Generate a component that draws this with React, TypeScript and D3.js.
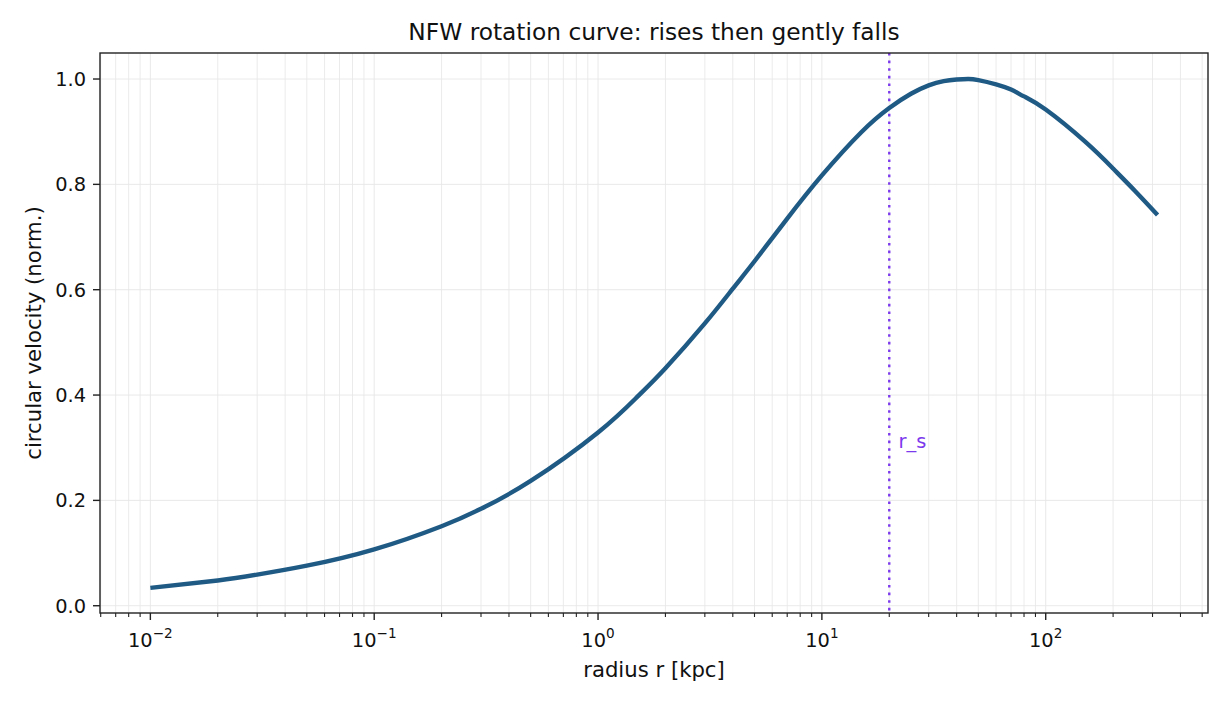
import { useEffect, useRef } from "react"
import * as d3 from "d3"

// radius [kpc] and normalised circular velocity
const radius = [0.01, 0.02, 0.03, 0.05, 0.1, 0.2, 0.3, 0.5, 1, 1.5, 2, 3, 4, 5, 7, 10, 15, 20, 25, 30, 35, 40, 45, 50, 60, 70, 80, 100, 150, 200, 250, 316]
const velocity = [0.034, 0.048, 0.059, 0.076, 0.107, 0.151, 0.184, 0.237, 0.329, 0.397, 0.451, 0.536, 0.602, 0.654, 0.735, 0.817, 0.899, 0.945, 0.972, 0.988, 0.996, 0.999, 1.0, 0.998, 0.990, 0.980, 0.967, 0.942, 0.881, 0.830, 0.788, 0.742]

const scaleRadius = 20
const xTickValues = [0.01, 0.1, 1, 10, 100]
const xTickExponents = ["−2", "−1", "0", "1", "2"]
const yTickValues = [0, 0.2, 0.4, 0.6, 0.8, 1.0]

const font = "'DejaVu Sans', sans-serif"

export default function App() {
  const svgRef = useRef<SVGSVGElement>(null)

  useEffect(() => {
    if (!svgRef.current) return
    const svg = d3.select(svgRef.current)
    svg.selectAll("*").remove()

    const width = 1230
    const height = 705
    const left = 100
    const right = 1208
    const top = 53
    const bottom = 613

    const x = d3.scaleLog().domain([Math.pow(10, -2.225), Math.pow(10, 2.725)]).range([left, right])
    const y = d3.scaleLinear().domain([-0.0138, 1.0494]).range([bottom, top])

    svg.attr("width", width).attr("height", height)
    svg.append("rect").attr("width", width).attr("height", height).attr("fill", "#ffffff")

    // minor decade ticks
    const minorTicks: number[] = []
    for (let e = -3; e <= 2; e++) {
      for (let m = 2; m <= 9; m++) {
        const v = m * Math.pow(10, e)
        if (x(v) >= left && x(v) <= right) minorTicks.push(v)
      }
    }

    const grid = svg.append("g")
    grid
      .selectAll(".vminor")
      .data(minorTicks)
      .enter()
      .append("line")
      .attr("x1", (d) => x(d))
      .attr("x2", (d) => x(d))
      .attr("y1", top)
      .attr("y2", bottom)
      .attr("stroke", "#e9e9e9")
      .attr("stroke-width", 0.9)
    grid
      .selectAll(".vmajor")
      .data(xTickValues)
      .enter()
      .append("line")
      .attr("x1", (d) => x(d))
      .attr("x2", (d) => x(d))
      .attr("y1", top)
      .attr("y2", bottom)
      .attr("stroke", "#e6e6e6")
      .attr("stroke-width", 0.9)
    grid
      .selectAll(".hmajor")
      .data(yTickValues)
      .enter()
      .append("line")
      .attr("x1", left)
      .attr("x2", right)
      .attr("y1", (d) => y(d))
      .attr("y2", (d) => y(d))
      .attr("stroke", "#e6e6e6")
      .attr("stroke-width", 0.9)

    // r_s marker
    svg
      .append("line")
      .attr("x1", x(scaleRadius))
      .attr("x2", x(scaleRadius))
      .attr("y1", top)
      .attr("y2", bottom)
      .attr("stroke", "#7c3aed")
      .attr("stroke-width", 2.4)
      .attr("stroke-dasharray", "2.6,5")

    svg
      .append("text")
      .attr("x", x(scaleRadius * 1.1))
      .attr("y", y(0.3))
      .style("font-family", font)
      .style("font-size", "19.4px")
      .style("fill", "#7c3aed")
      .text("r_s")

    // curve
    const points: [number, number][] = radius.map((r, i) => [r, velocity[i]])
    const line = d3
      .line<[number, number]>()
      .x((d) => x(d[0]))
      .y((d) => y(d[1]))
      .curve(d3.curveNatural)

    svg
      .append("path")
      .datum(points)
      .attr("d", line)
      .attr("fill", "none")
      .attr("stroke", "#1f5a85")
      .attr("stroke-width", 4.4)

    // frame
    svg
      .append("rect")
      .attr("x", left)
      .attr("y", top)
      .attr("width", right - left)
      .attr("height", bottom - top)
      .attr("fill", "none")
      .attr("stroke", "#222222")
      .attr("stroke-width", 1.4)

    // x ticks
    const xAxis = svg.append("g")
    xAxis
      .selectAll(".minor")
      .data(minorTicks)
      .enter()
      .append("line")
      .attr("x1", (d) => x(d))
      .attr("x2", (d) => x(d))
      .attr("y1", bottom)
      .attr("y2", bottom + 4)
      .attr("stroke", "#222222")
      .attr("stroke-width", 1.1)
    xAxis
      .selectAll(".major")
      .data(xTickValues)
      .enter()
      .append("line")
      .attr("x1", (d) => x(d))
      .attr("x2", (d) => x(d))
      .attr("y1", bottom)
      .attr("y2", bottom + 7)
      .attr("stroke", "#222222")
      .attr("stroke-width", 1.4)

    const xLabels = xAxis
      .selectAll(".lab")
      .data(xTickValues)
      .enter()
      .append("text")
      .attr("x", (d) => x(d))
      .attr("y", bottom + 34)
      .attr("text-anchor", "middle")
      .style("font-family", font)
      .style("font-size", "19.4px")
      .style("fill", "#111111")
    xLabels.append("tspan").text("10")
    xLabels
      .append("tspan")
      .attr("dy", -9)
      .style("font-size", "13.6px")
      .text((d, i) => xTickExponents[i])

    // y ticks
    const yAxis = svg.append("g")
    yAxis
      .selectAll(".major")
      .data(yTickValues)
      .enter()
      .append("line")
      .attr("x1", left - 7)
      .attr("x2", left)
      .attr("y1", (d) => y(d))
      .attr("y2", (d) => y(d))
      .attr("stroke", "#222222")
      .attr("stroke-width", 1.4)
    yAxis
      .selectAll(".lab")
      .data(yTickValues)
      .enter()
      .append("text")
      .attr("x", left - 14)
      .attr("y", (d) => y(d))
      .attr("dy", "0.36em")
      .attr("text-anchor", "end")
      .style("font-family", font)
      .style("font-size", "19.4px")
      .style("fill", "#111111")
      .text((d) => d3.format(".1f")(d))

    // titles
    svg
      .append("text")
      .attr("x", (left + right) / 2)
      .attr("y", 39.5)
      .attr("text-anchor", "middle")
      .style("font-family", font)
      .style("font-size", "23.3px")
      .style("fill", "#111111")
      .text("NFW rotation curve: rises then gently falls")

    svg
      .append("text")
      .attr("x", (left + right) / 2)
      .attr("y", 677)
      .attr("text-anchor", "middle")
      .style("font-family", font)
      .style("font-size", "21.2px")
      .style("fill", "#111111")
      .text("radius r [kpc]")

    svg
      .append("text")
      .attr("transform", `translate(40.5,${(top + bottom) / 2}) rotate(-90)`)
      .attr("text-anchor", "middle")
      .style("font-family", font)
      .style("font-size", "21.2px")
      .style("fill", "#111111")
      .text("circular velocity (norm.)")
  }, [])

  return (
    <div style={{ margin: -8 }}>
      <svg ref={svgRef}></svg>
    </div>
  )
}
